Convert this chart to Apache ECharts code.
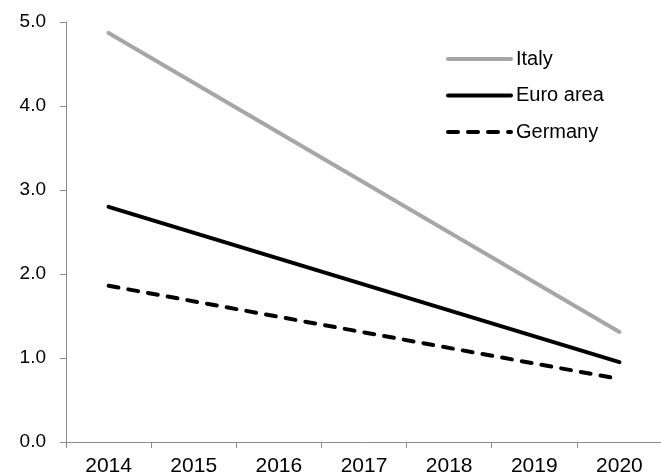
<!DOCTYPE html>
<html><head><meta charset="utf-8">
<script src="https://cdn.jsdelivr.net/npm/echarts@6/dist/echarts.min.js"></script>
<style>html,body{margin:0;padding:0;background:#fff}#c{width:661px;height:475px}</style>
</head><body><div id="c"></div>
<script>
const years = ['2014','2015','2016','2017','2018','2019','2020'];
const italy = [4.87, null, null, null, null, null, 1.31];
const euroArea = [2.80, null, null, null, null, null, 0.95];
const germany = [1.86, null, null, null, null, null, 0.75];
const yTicks = [0, 1, 2, 3, 4, 5];

const chart = echarts.init(document.getElementById('c'), null, {renderer: 'canvas'});
const font = 'Liberation Sans, Arial, sans-serif';
chart.setOption({
  animation: false,
  backgroundColor: '#fff',
  grid: {left: 66, top: 22, width: 596, height: 420, containLabel: false, outerBoundsMode: 'none'},
  legend: {
    orient: 'vertical', left: 441, top: 44,
    itemWidth: 63, itemHeight: 20, itemGap: 16.5,
    itemStyle: {opacity: 0, borderWidth: 0},
    lineStyle: {width: 4},
    textStyle: {fontFamily: font, fontSize: 20, lineHeight: 20, color: '#000'},
    data: ['Italy', 'Euro area', 'Germany']
  },
  xAxis: {
    type: 'category', data: years, boundaryGap: true,
    axisLine: {lineStyle: {color: '#8c8c8c', width: 1}},
    axisTick: {show: true, length: 6, alignWithLabel: false, lineStyle: {color: '#8c8c8c'}},
    axisLabel: {fontFamily: font, fontSize: 21, color: '#000', margin: 14}
  },
  yAxis: {
    type: 'value', min: yTicks[0], max: yTicks[yTicks.length - 1], interval: 1,
    axisLine: {show: true, lineStyle: {color: '#8c8c8c', width: 1}},
    axisTick: {show: true, length: 6, lineStyle: {color: '#8c8c8c'}},
    splitLine: {show: false},
    axisLabel: {fontFamily: font, fontSize: 19, color: '#000', margin: 20,
      formatter: v => v.toFixed(1)}
  },
  series: [
    {name: 'Italy', type: 'line', data: italy, connectNulls: true, symbol: 'none',
      lineStyle: {color: '#a6a6a6', width: 4, cap: 'round'}, itemStyle: {color: '#a6a6a6'}},
    {name: 'Euro area', type: 'line', data: euroArea, connectNulls: true, symbol: 'none',
      lineStyle: {color: '#000', width: 4, cap: 'round'}, itemStyle: {color: '#000'}},
    {name: 'Germany', type: 'line', data: germany, connectNulls: true, symbol: 'none',
      lineStyle: {color: '#000', width: 4, type: [10, 10], cap: 'round'}, itemStyle: {color: '#000'}}
  ]
});
</script></body></html>
